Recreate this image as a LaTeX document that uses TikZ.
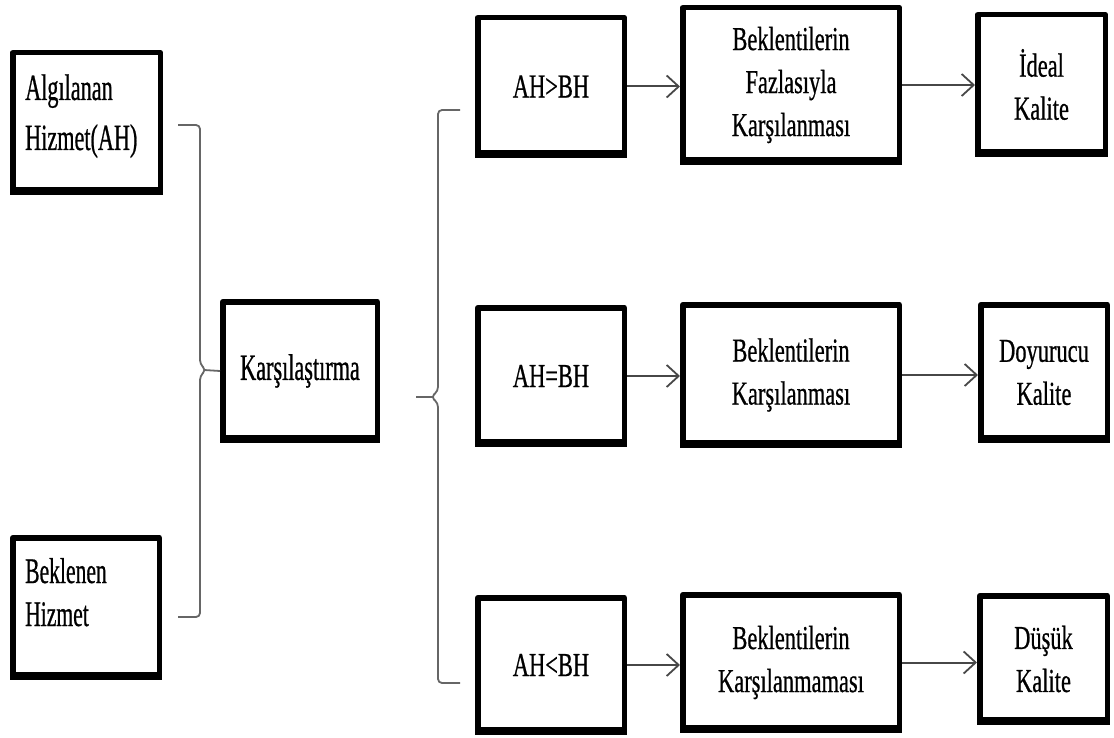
\documentclass[tikz,border=0pt]{standalone}
\usepackage{fontspec}
\setmainfont{Liberation Serif}
\newfontfamily\leftfont[FakeStretch=0.6,FakeBold=0.6]{Liberation Serif}
\newfontfamily\rightfont[FakeStretch=0.67,FakeBold=0.6]{Liberation Serif}
\usetikzlibrary{arrows.meta}

\begin{document}
\begin{tikzpicture}[x=1pt,y=-1pt,
  box/.style={draw, line width=5.5pt, line join=round, inner sep=0pt, align=center},
  bigtext/.style={font=\leftfont\fontsize{37}{50}\selectfont},
  smalltext/.style={font=\rightfont\fontsize{33.5}{43}\selectfont},
  link/.style={draw=black!72, line width=2pt,
    -{Straight Barb[length=12pt,width=22pt,line width=1.8pt]}},
  bracket/.style={draw=black!60, line width=1.8pt, rounded corners=4pt}]

\fill[white] (0,0) rectangle (1114,738);
\useasboundingbox (0,0) rectangle (1114,738);

% inputs
\node[box, minimum width=147.5pt, minimum height=139.5pt] (alg) at (86.5,122.5) {};
\node[anchor=base west, inner sep=0pt, bigtext] (algtext) at (25,100)
  {\vtop{\hbox{Algılanan}\hbox{Hizmet(AH)}}};
\node[box, minimum width=146.5pt, minimum height=139.5pt] (bek) at (86,607.5) {};
\node[anchor=base west, inner sep=0pt, font=\leftfont\fontsize{36}{43}\selectfont] (bektext) at (25,583)
  {\vtop{\hbox{Beklenen}\hbox{Hizmet}}};

% comparison
\node[box, bigtext, minimum width=154.5pt, minimum height=138.5pt] (karsi) at (300,371) {Karşılaştırma};

% outcomes
\node[box, smalltext, minimum width=146.5pt, minimum height=137.5pt] (gt) at (551,86.5) {AH>BH};
\node[box, smalltext, minimum width=216.5pt, minimum height=154.5pt] (fazla) at (791,85)
  {Beklentilerin\\Fazlasıyla\\Karşılanması};
\node[box, smalltext, minimum width=127.5pt, minimum height=139.5pt] (ideal) at (1041.5,84.5)
  {İdeal\\Kalite};

\node[box, smalltext, minimum width=146.5pt, minimum height=136.5pt] (eq) at (551,376) {AH=BH};
\node[box, smalltext, minimum width=216.5pt, minimum height=140.5pt] (karsilan) at (791,375)
  {Beklentilerin\\Karşılanması};
\node[box, smalltext, minimum width=126.5pt, minimum height=135.5pt] (doyur) at (1044,372.5)
  {Doyurucu\\Kalite};

\node[box, smalltext, minimum width=146.5pt, minimum height=134.5pt] (lt) at (551,665) {AH<BH};
\node[box, smalltext, minimum width=216.5pt, minimum height=135.5pt] (karsilanma) at (791,662.5)
  {Beklentilerin\\Karşılanmaması};
\node[box, smalltext, minimum width=127.5pt, minimum height=126.5pt] (dusuk) at (1043.5,659)
  {Düşük\\Kalite};

% heavier lower edges of the boxes
\foreach \n in {alg,bek,karsi,gt,fazla,ideal,eq,karsilan,doyur,lt,karsilanma,dusuk}
  \draw[line width=8pt] ([yshift=4pt]\n.south west) -- ([yshift=4pt]\n.south east);

% arrows
\draw[link] (gt.east) -- (gt.east -| fazla.west);
\draw[link] (fazla.east) -- (fazla.east -| ideal.west);
\draw[link] (eq.east) -- (eq.east -| karsilan.west);
\draw[link] (karsilan.east) -- (karsilan.east -| doyur.west);
\draw[link] (lt.east) -- (lt.east -| karsilanma.west);
\draw[link] (karsilanma.east) -- (karsilanma.east -| dusuk.west);

% closing brace joining the two inputs
\draw[bracket] (178,125) -- (200,125) -- (200,364) -- (206,370) -- (200,376) -- (200,617) -- (178,617);
\draw[bracket] (204,370) -- (karsi.west);

% opening brace fanning out to the three cases
\coordinate (rtip) at (416,397);
\draw[bracket] (460,110) -- (438,110) -- (438,391) -- (431,397) -- (438,403) -- (438,683) -- (460,683);
\draw[bracket] (433,397) -- (rtip);
\end{tikzpicture}
\end{document}
